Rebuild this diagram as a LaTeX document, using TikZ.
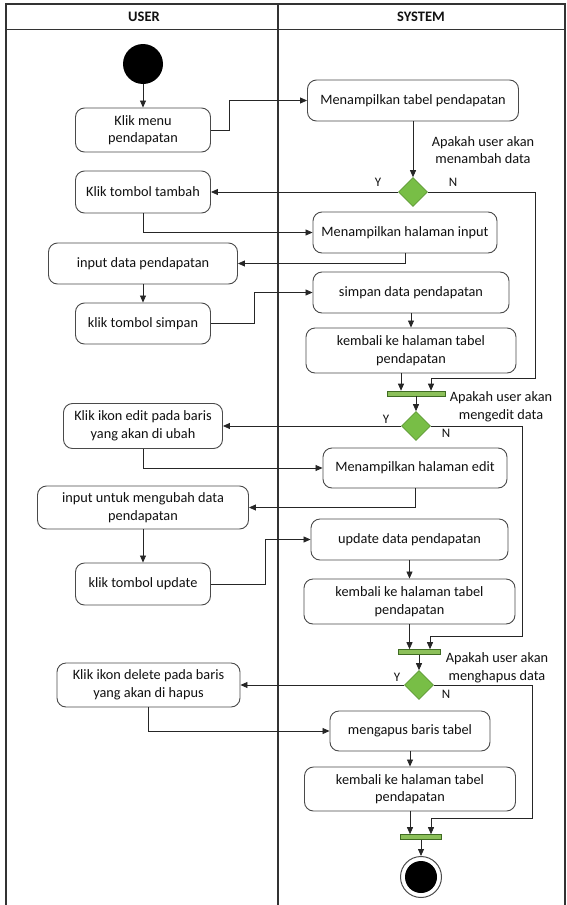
\documentclass[tikz,border=0pt]{standalone}
\usepackage{fontspec}
\setmainfont{Carlito}
\usetikzlibrary{arrows.meta,shapes.geometric,calc}
\definecolor{boxline}{HTML}{4A4A4A}
\definecolor{txt}{HTML}{111111}
\definecolor{decfill}{HTML}{78BE46}
\definecolor{decline}{HTML}{5E9A36}
\definecolor{barfill}{HTML}{8CC05A}
\definecolor{barline}{HTML}{3F6B22}
\begin{document}
\begin{tikzpicture}[x=1pt,y=-1pt,
  font=\fontsize{14.3}{17.5}\selectfont, text=txt,
  act/.style={draw=boxline, line width=0.9pt, rounded corners=9pt, align=center,
              inner sep=2pt, fill=white},
  dec/.style={diamond, draw=decline, fill=decfill, minimum width=29pt,
              minimum height=29pt, inner sep=0pt, line width=0.6pt},
  bar/.style={rectangle, draw=barline, fill=barfill, minimum height=5pt,
              inner sep=0pt, line width=0.6pt},
  flow/.style={draw=black!85, line width=0.8pt, -{Triangle[length=7pt,width=6pt]}},
  yn/.style={font=\fontsize{13}{15}\selectfont, inner sep=0pt},
  note/.style={align=center, inner sep=0pt},
  lane/.style={draw=black!80, line width=1.3pt},
  head/.style={font=\fontsize{14.5}{16}\selectfont\bfseries}
]
\useasboundingbox (0,0) rectangle (566,905);

% swimlanes
\draw[lane] (6,4) rectangle (565,912);
\draw[lane] (6,29.5) -- (565,29.5);
\draw[lane] (278,4) -- (278,912);
\node[head] (huser) at (144,17) {USER};
\node[head] (hsys)  at (421,17) {SYSTEM};

% start / end
\node[circle, fill=black, minimum size=40pt, inner sep=0pt] (start) at (143,64) {};
\node[circle, draw=black!70, line width=1pt, fill=white, minimum size=41pt, inner sep=0pt] (end) at (421,877) {};
\node[circle, fill=black, minimum size=32pt, inner sep=0pt] (endcore) at (end) {};

% user lane
\node[act, minimum width=135pt, minimum height=44pt] (n1)  at (143,130)   {Klik menu\\pendapatan};
\node[act, minimum width=135pt, minimum height=42pt] (n3)  at (143,192)   {Klik tombol tambah};
\node[act, minimum width=189pt, minimum height=41pt] (n5)  at (143,263.5) {input data pendapatan};
\node[act, minimum width=135pt, minimum height=41pt] (n6)  at (143,323.5) {klik tombol simpan};
\node[act, minimum width=159pt, minimum height=45pt] (n9)  at (143,426)   {Klik ikon edit pada baris\\yang akan di ubah};
\node[act, minimum width=211pt, minimum height=43pt] (n11) at (143,507.5) {input untuk mengubah data\\pendapatan};
\node[act, minimum width=135pt, minimum height=42pt] (n12) at (143,584)   {klik tombol update};
\node[act, minimum width=183pt, minimum height=44pt] (n15) at (148.5,685) {Klik ikon delete pada baris\\yang akan di hapus};

% system lane
\node[act, minimum width=211pt, minimum height=41pt] (n2)  at (413,100.5) {Menampilkan tabel pendapatan};
\node[act, minimum width=184pt, minimum height=41pt] (n4)  at (405,232.5) {Menampilkan halaman input};
\node[act, minimum width=196pt, minimum height=41pt] (n7)  at (411,292.5) {simpan data pendapatan};
\node[act, minimum width=210pt, minimum height=45pt] (n8)  at (411,350.5) {kembali ke halaman tabel\\pendapatan};
\node[act, minimum width=184pt, minimum height=40pt] (n10) at (415,468)   {Menampilkan halaman edit};
\node[act, minimum width=197pt, minimum height=41pt] (n13) at (409.5,539.5) {update data pendapatan};
\node[act, minimum width=211pt, minimum height=45pt] (n14) at (409.5,601.5) {kembali ke halaman tabel\\pendapatan};
\node[act, minimum width=160pt, minimum height=40pt] (n16) at (410,731)   {mengapus baris tabel};
\node[act, minimum width=211pt, minimum height=44pt] (n17) at (410,789)   {kembali ke halaman tabel\\pendapatan};

% decisions and joins
\node[dec] (d1) at (413,192) {};
\node[dec] (d2) at (416,426) {};
\node[dec] (d3) at (419,685) {};
\node[bar, minimum width=58pt] (bar1) at (416,393.5) {};
\node[bar, minimum width=42pt] (bar2) at (419,652) {};
\node[bar, minimum width=41pt] (bar3) at (421,837) {};

% guard texts
\node[note] (q1) at (483,150) {Apakah user akan\\menambah data};
\node[note] (q2) at (501,407) {Apakah user akan\\mengedit data};
\node[note] (q3) at (497,668) {Apakah user akan\\menghapus data};
\node[yn] (y1) at (378,182) {Y};
\node[yn] (m1) at (453,182) {N};
\node[yn] (y2) at (386,419) {Y};
\node[yn] (m2) at (446,433) {N};
\node[yn] (y3) at (397,677) {Y};
\node[yn] (m3) at (446,694) {N};

% bend points of the "N" branches
\coordinate (k1) at (535,378);
\coordinate (k2) at (522,636);
\coordinate (k3) at (532,818);

% flows
\draw[flow] (start.south) -- (n1.north);
\draw[flow] (n1.east) -- ++(18,0) |- (n2.west);
\draw[flow] (n2.south) -- (d1.north);
\draw[flow] (d1.west) -- (n3.east);
\draw[flow] (d1.east) -| (k1) -| ([xshift=15pt]bar1.north);
\draw[flow] (n3.south) |- (n4.west);
\draw[flow] (n4.south) |- (n5.east);
\draw[flow] (n5.south) -- (n6.north);
\draw[flow] (n6.east) -- ++(43,0) |- (n7.west);
\draw[flow] (n7.south) -- (n8.north);
\draw[flow] ([xshift=-10pt]n8.south) -- ([xshift=-10pt]n8.south |- bar1.north);
\draw[flow] (bar1.south) -- (d2.north);
\draw[flow] (d2.west) -- (n9.east);
\draw[flow] (d2.east) -| (k2) -| ([xshift=11pt]bar2.north);
\draw[flow] (n9.south) |- (n10.west);
\draw[flow] (n10.south) |- (n11.east);
\draw[flow] (n11.south) -- (n12.north);
\draw[flow] (n12.east) -- ++(54,0) |- (n13.west);
\draw[flow] (n13.south) -- (n14.north);
\draw[flow] (n14.south) -- (n14.south |- bar2.north);
\draw[flow] (bar2.south) -- (d3.north);
\draw[flow] (d3.west) -- (n15.east);
\draw[flow] (d3.east) -| (k3) -| ([xshift=10pt]bar3.north);
\draw[flow] (n15.south) |- (n16.west);
\draw[flow] (n16.south) -- (n17.north);
\draw[flow] (n17.south) -- (n17.south |- bar3.north);
\draw[flow] (bar3.south) -- (end.north);
\end{tikzpicture}
\end{document}
